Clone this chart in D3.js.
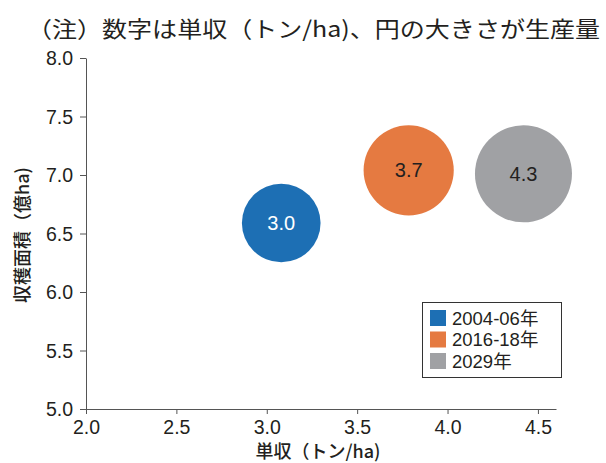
<!DOCTYPE html>
<html>
<head>
<meta charset="utf-8">
<script src="https://cdn.jsdelivr.net/npm/d3@7"></script>
<style>
  body { margin: 0; background: #fff; }
  svg { display: block; }
  text { font-family: "Liberation Sans", "Noto Sans CJK JP", sans-serif; fill: #231f20; }
</style>
</head>
<body>
<div id="chart"></div>
<script>
// data
const periods = ['2004-06年', '2016-18年', '2029年'];
const yieldVals = [3.08, 3.785, 4.42];   // x position (単収)
const areaVals = [6.59, 7.04, 7.01];     // y position (収穫面積, 億ha)
const yieldLabels = ['3.0', '3.7', '4.3'];
const production = [19.8, 26.0, 30.1];   // bubble size (生産量)
const colors = ['#1d6fb4', '#e57a41', '#a0a1a4'];
const labelColors = ['#ffffff', '#231f20', '#231f20'];
const xTicks = [2.0, 2.5, 3.0, 3.5, 4.0, 4.5];
const yTicks = [5.0, 5.5, 6.0, 6.5, 7.0, 7.5, 8.0];

const width = 606, height = 463;
const svg = d3.select('#chart').append('svg')
    .attr('width', width)
    .attr('height', height);

const x = d3.scaleLinear().domain([2.0, 4.6]).range([86, 556]);
const y = d3.scaleLinear().domain([5.0, 8.0]).range([409, 58]);
const r = d3.scaleSqrt().domain([0, 30.1]).range([0, 48.5]);

// title note
svg.append('text')
    .attr('x', 27)
    .attr('y', 37)
    .attr('font-size', 22)
    .attr('textLength', 573)
    .attr('lengthAdjust', 'spacingAndGlyphs')
    .style('font-family', '"Noto Sans CJK JP", sans-serif')
    .text('（注）数字は単収（トン/ha)、円の大きさが生産量');

// axes
const xAxis = svg.append('g')
    .attr('transform', `translate(0,${y(5.0)})`)
    .call(d3.axisBottom(x).tickValues(xTicks).tickFormat(d3.format('.1f')).tickSize(5).tickSizeOuter(0));
const yAxis = svg.append('g')
    .attr('transform', `translate(${x(2.0)},0)`)
    .call(d3.axisLeft(y).tickValues(yTicks).tickFormat(d3.format('.1f')).tickSize(6).tickSizeOuter(0));

[xAxis, yAxis].forEach(g => {
    g.select('.domain').attr('stroke', '#555');
    g.selectAll('.tick line').attr('stroke', '#555');
    g.selectAll('.tick text')
        .attr('font-size', 19.5)
        .attr('fill', '#231f20')
        .style('font-family', '"Liberation Sans", sans-serif');
});
xAxis.selectAll('.tick text').attr('dy', '0.95em').attr('y', 6);
yAxis.selectAll('.tick text').attr('x', -13).attr('dy', '0.35em');

// axis titles
svg.append('text')
    .attr('x', 318)
    .attr('y', 458)
    .attr('text-anchor', 'middle')
    .attr('font-size', 18)
    .attr('font-weight', 500)
    .style('font-family', '"Noto Sans CJK JP", sans-serif')
    .text('単収（トン/ha)');

svg.append('text')
    .attr('transform', 'translate(29,235) rotate(-90)')
    .attr('text-anchor', 'middle')
    .attr('font-size', 18)
    .attr('font-weight', 500)
    .style('font-family', '"Noto Sans CJK JP", sans-serif')
    .text('収穫面積（億ha)');

// bubbles
const data = periods.map((p, i) => ({
    period: p, x: yieldVals[i], y: areaVals[i], label: yieldLabels[i],
    prod: production[i], color: colors[i], labelColor: labelColors[i]
}));

const bubbles = svg.append('g').selectAll('g')
    .data(data)
    .enter()
    .append('g');

bubbles.append('circle')
    .attr('cx', d => x(d.x))
    .attr('cy', d => y(d.y))
    .attr('r', d => r(d.prod))
    .attr('fill', d => d.color);

bubbles.append('text')
    .attr('x', d => x(d.x))
    .attr('y', d => y(d.y))
    .attr('dy', '0.35em')
    .attr('text-anchor', 'middle')
    .attr('font-size', 20)
    .style('fill', d => d.labelColor)
    .text(d => d.label);

// legend
const legend = svg.append('g');
legend.append('rect')
    .attr('x', 422.5).attr('y', 302.5)
    .attr('width', 139).attr('height', 75)
    .attr('fill', '#fff')
    .attr('stroke', '#333')
    .attr('stroke-width', 1);

const items = legend.selectAll('.item')
    .data(data)
    .enter()
    .append('g')
    .attr('class', 'item')
    .attr('transform', (d, i) => `translate(430,${318 + i * 21.5})`);

items.append('rect')
    .attr('x', 0).attr('y', -8)
    .attr('width', 16).attr('height', 16)
    .attr('fill', d => d.color);

items.append('text')
    .attr('x', 22)
    .attr('dy', '0.36em')
    .attr('font-size', 18.5)
    .text(d => d.period);
</script>
</body>
</html>
